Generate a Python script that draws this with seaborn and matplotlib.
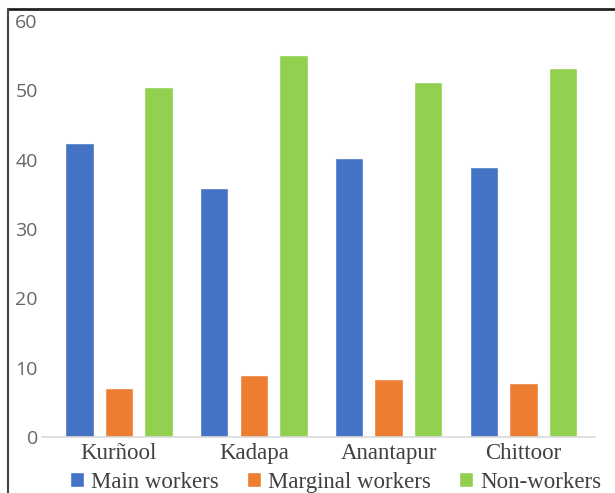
import pandas as pd
import matplotlib
matplotlib.use("Agg")
import matplotlib.pyplot as plt
import seaborn as sns
from matplotlib.lines import Line2D

# =============================================================================
# DATA
# =============================================================================
districts = ["Kurñool", "Kadapa", "Anantapur", "Chittoor"]
series = ["Main workers", "Marginal workers", "Non-workers"]
main_workers = [42.4, 35.9, 40.3, 38.9]
marginal_workers = [7.0, 8.9, 8.3, 7.8]
non_workers = [50.5, 55.1, 51.2, 53.2]
y_ticks = [0, 10, 20, 30, 40, 50, 60]

colors = ["#4472C4", "#ED7D31", "#92D050"]

df = pd.DataFrame({
    "district": districts * 3,
    "series": [s for s in series for _ in districts],
    "value": main_workers + marginal_workers + non_workers,
})

# =============================================================================
# PLOT
# =============================================================================
sns.set_style("white")
fig = plt.figure(figsize=(6.15, 4.93), dpi=100)
ax = fig.add_axes([0.0683, 0.1136, 0.8992, 0.8438])

sns.barplot(data=df, x="district", y="value", hue="series", order=districts,
            hue_order=series, palette=colors, width=0.88, gap=0.28,
            saturation=1, ax=ax, legend=True)

ax.set_ylim(0, 60)
ax.set_xlim(-0.57, 3.53)
ax.set_yticks(y_ticks)
ax.set_xlabel("")
ax.set_ylabel("")
for s in ["top", "right", "left"]:
    ax.spines[s].set_visible(False)
ax.spines["bottom"].set_color("#D9D9D9")
ax.spines["bottom"].set_linewidth(1.2)
ax.tick_params(axis="both", length=0)
ax.tick_params(axis="y", pad=3, labelsize=14, labelcolor="#666666")
ax.tick_params(axis="x", pad=4)
for lab in ax.get_xticklabels():
    lab.set_fontfamily("Liberation Serif")
    lab.set_fontsize(16.5)
    lab.set_color("#404040")
for lab in ax.get_yticklabels():
    lab.set_fontfamily("Open Sans")

handles, labels = ax.get_legend_handles_labels()
ax.get_legend().remove()
fig.legend(handles, labels, loc="center", bbox_to_anchor=(0.546, 0.022),
           ncol=3, frameon=False, handlelength=0.6, handleheight=0.6,
           handletextpad=0.3, columnspacing=1.25,
           prop={"family": "Liberation Serif", "size": 16.5},
           labelcolor="#404040")

# outer frame (top and left edges)
fig.add_artist(Line2D([0.013, 1.0], [0.981, 0.981], color="#222222", lw=2,
                      transform=fig.transFigure))
fig.add_artist(Line2D([0.013, 0.013], [0.0, 0.981], color="#444444", lw=1.5,
                      transform=fig.transFigure))

fig.savefig("out.png", dpi=100)
plt.close(fig)
